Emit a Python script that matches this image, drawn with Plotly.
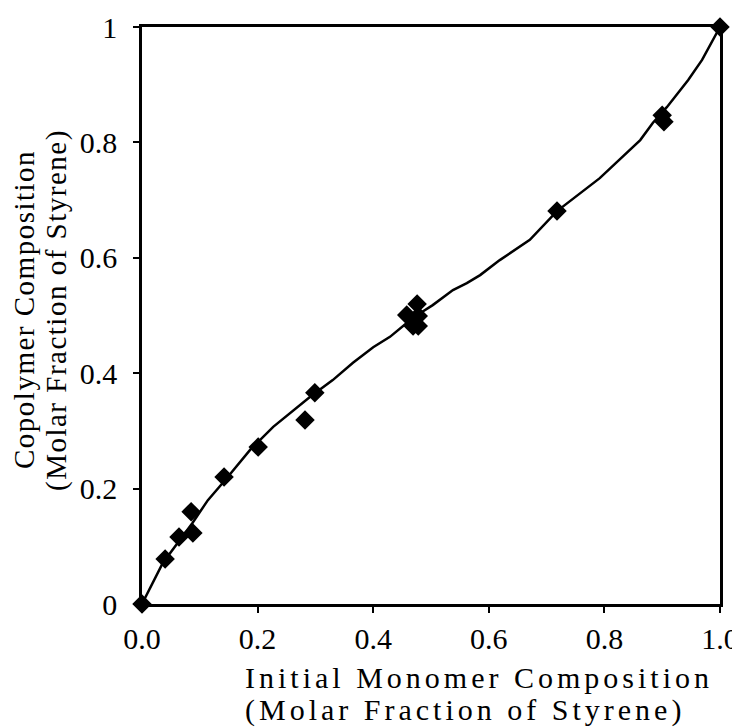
import plotly.graph_objects as go

# Experimental data points (molar fraction of styrene)
feed_x = [0.0, 0.040, 0.064, 0.085, 0.088, 0.142, 0.201, 0.282, 0.299,
          0.458, 0.476, 0.469, 0.478, 0.478, 0.718, 0.900, 0.903, 1.0]
copoly_y = [0.0, 0.078, 0.116, 0.160, 0.123, 0.220, 0.272, 0.319, 0.366,
            0.501, 0.520, 0.482, 0.482, 0.499, 0.681, 0.847, 0.836, 1.0]

# Fitted curve
curve_x = [0.0, 0.036, 0.087, 0.114, 0.144, 0.187, 0.227, 0.256, 0.291, 0.330,
           0.365, 0.400, 0.429, 0.458, 0.481, 0.503, 0.538, 0.562, 0.585, 0.619,
           0.671, 0.718, 0.792, 0.862, 0.884, 0.908, 0.945, 0.969, 1.0]
curve_y = [0.0, 0.071, 0.140, 0.180, 0.215, 0.267, 0.307, 0.331, 0.359, 0.388,
           0.418, 0.445, 0.463, 0.487, 0.504, 0.518, 0.544, 0.556, 0.570, 0.596,
           0.631, 0.681, 0.738, 0.804, 0.834, 0.861, 0.908, 0.943, 1.0]

x_tickvals = [0.0, 0.2, 0.4, 0.6, 0.8, 1.0]
x_ticktext = ["0.0", "0.2", "0.4", "0.6", "0.8", "1.0"]
y_tickvals = [0.0, 0.2, 0.4, 0.6, 0.8, 1.0]
y_ticktext = ["0", "0.2", "0.4", "0.6", "0.8", "1"]

x_title_lines = ["Initial Monomer Composition", "(Molar Fraction of Styrene)"]
y_title_lines = ["Copolymer Composition", "(Molar Fraction of Styrene)"]

FONT = "Liberation Serif, Times New Roman, serif"

# The page body adds an 8 px offset, so the figure is drawn 8 px smaller
OFF = 8
WIN_W, WIN_H = 740, 728
W, H = WIN_W - OFF, WIN_H - OFF
# plot area in window pixels: x 142..720, y 27..604
PL, PR, PT, PB = 142, 720, 27, 604
L, R, T, B = PL - OFF, W - (PR - OFF), PT - OFF, H - (PB - OFF)
PW, PH = PR - PL, PB - PT


def px_x(wx):
    return (wx - PL) / PW


def px_y(wy):
    return (PB - wy) / PH


def spaced(txt, ls):
    return '<span style="letter-spacing:%.1fpx">%s</span>' % (ls, txt)


fig = go.Figure()
fig.add_trace(go.Scatter(x=curve_x, y=curve_y, mode="lines",
                         line=dict(color="black", width=2.5),
                         cliponaxis=False, hoverinfo="skip", showlegend=False))
fig.add_trace(go.Scatter(x=feed_x, y=copoly_y, mode="markers",
                         marker=dict(symbol="diamond", size=15, color="black"),
                         cliponaxis=False, showlegend=False))

axis_common = dict(range=[0, 1], showline=True, linecolor="black", linewidth=2.5,
                   mirror=True, ticks="outside", ticklen=6, tickwidth=2,
                   tickcolor="black", showgrid=False, zeroline=False,
                   automargin=False,
                   tickfont=dict(family=FONT, size=30, color="black"))

fig.update_xaxes(**axis_common, tickvals=x_tickvals, ticktext=x_ticktext,
                 ticklabelstandoff=0)
fig.update_yaxes(**axis_common, tickvals=y_tickvals, ticktext=y_ticktext,
                 ticklabelstandoff=10)

# x-axis title, two lines, left aligned
for txt, cy in zip(x_title_lines, [677, 710]):
    fig.add_annotation(text=spaced(txt, 4.0),
                       xref="paper", yref="paper",
                       x=px_x(243), y=px_y(cy), xanchor="left", yanchor="middle",
                       showarrow=False,
                       font=dict(family=FONT, size=30, color="black"))

# y-axis title, two rotated lines centred on the axis
for txt, cx in zip(y_title_lines, [24, 56]):
    fig.add_annotation(text=spaced(txt, 1.5), xref="paper", yref="paper",
                       x=px_x(cx), y=px_y(310), xanchor="center", yanchor="middle",
                       textangle=-90, showarrow=False,
                       font=dict(family=FONT, size=29, color="black"))

fig.update_layout(width=W, height=H,
                  margin=dict(l=L, r=R, t=T, b=B, autoexpand=False),
                  plot_bgcolor="white", paper_bgcolor="white")

fig.write_html("out.html")
